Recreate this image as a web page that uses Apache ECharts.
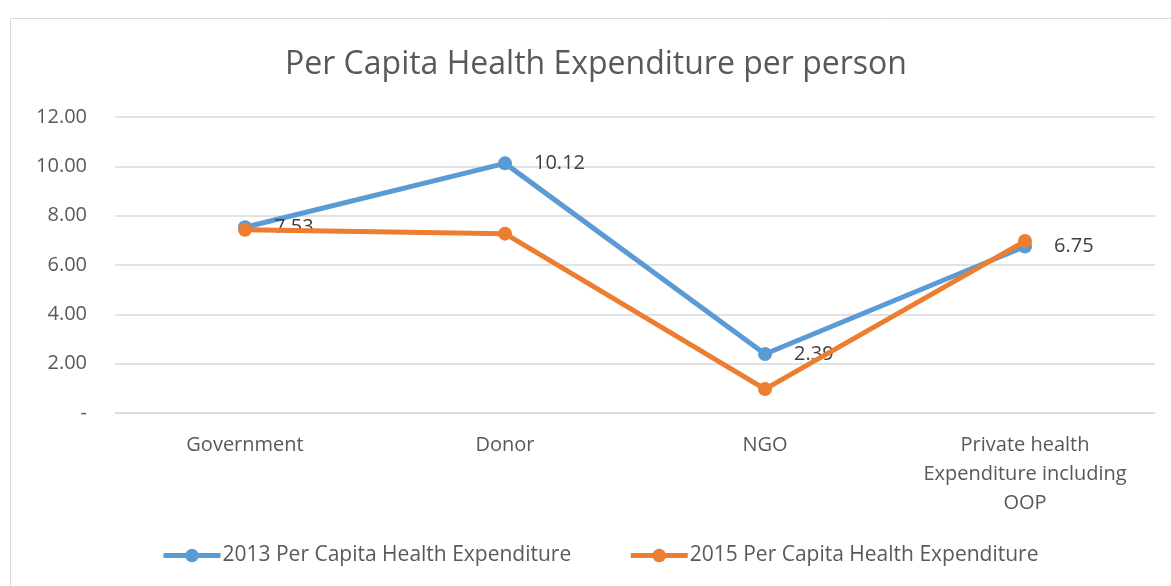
<!DOCTYPE html>
<html>
<head>
<meta charset="utf-8">
<script src="https://cdn.jsdelivr.net/npm/echarts@6/dist/echarts.min.js"></script>
<style>
  html, body { margin: 0; padding: 0; background: #fff; }
  #container { width: 1171px; height: 586px; }
</style>
</head>
<body>
<div id="container"></div>
<script>
var categories = ['Government', 'Donor', 'NGO', 'Private health\nExpenditure including\nOOP'];
var seriesNames = ['2013 Per Capita Health Expenditure', '2015 Per Capita Health Expenditure'];
var values2013 = [7.53, 10.12, 2.39, 6.75];
var values2015 = [7.43, 7.27, 0.97, 6.97];

var myChart = echarts.init(document.getElementById('container'));
var font = '"Open Sans", "Noto Sans", sans-serif';
var option = {
    animation: false,
    textStyle: { fontFamily: font },
    graphic: [{
        type: 'rect',
        shape: { x: 10.5, y: 18.5, width: 1200, height: 600 },
        style: { fill: 'none', stroke: '#d9d9d9', lineWidth: 1 },
        z: -1
    }],
    title: {
        text: 'Per Capita Health Expenditure per person',
        left: 280,
        top: 44,
        textStyle: { fontFamily: font, fontSize: 32, fontWeight: 'normal', color: '#595959' }
    },
    legend: {
        bottom: 15,
        left: 156,
        itemGap: 57,
        itemWidth: 57,
        itemHeight: 17,
        lineStyle: { width: 5 },
        textStyle: { fontFamily: font, fontSize: 21, color: '#595959', padding: [0, 0, 0, -3] },
        data: seriesNames
    },
    grid: { left: 115, right: 16, top: 117, bottom: 173, containLabel: false },
    xAxis: {
        type: 'category',
        data: categories,
        boundaryGap: true,
        axisLine: { lineStyle: { color: '#d9d9d9' } },
        axisTick: { show: false },
        axisLabel: {
            interval: 0, margin: 18, color: '#595959', fontSize: 20, lineHeight: 29,
            fontFamily: font, align: 'center', verticalAlign: 'top'
        }
    },
    yAxis: {
        type: 'value',
        min: 0, max: 12, interval: 2,
        axisLine: { show: false },
        axisTick: { show: false },
        splitLine: { lineStyle: { color: '#d9d9d9', width: 1.5 } },
        axisLabel: {
            margin: 28, color: '#595959', fontSize: 20, fontFamily: font,
            formatter: function (v) { return v === 0 ? '-' : v.toFixed(2); }
        }
    },
    series: [{
        name: seriesNames[0],
        type: 'line',
        data: values2013,
        color: '#5b9bd5',
        symbol: 'circle',
        symbolSize: 14,
        lineStyle: { width: 5 },
        label: {
            show: true, position: 'right', distance: 22, color: '#404040', fontSize: 20, fontFamily: font,
            formatter: function (p) { return p.value.toFixed(2); }
        },
        z: 2
    }, {
        name: seriesNames[1],
        type: 'line',
        data: values2015,
        color: '#ed7d31',
        symbol: 'circle',
        symbolSize: 14,
        lineStyle: { width: 5 },
        z: 3
    }]
};
myChart.setOption(option);
</script>
</body>
</html>
